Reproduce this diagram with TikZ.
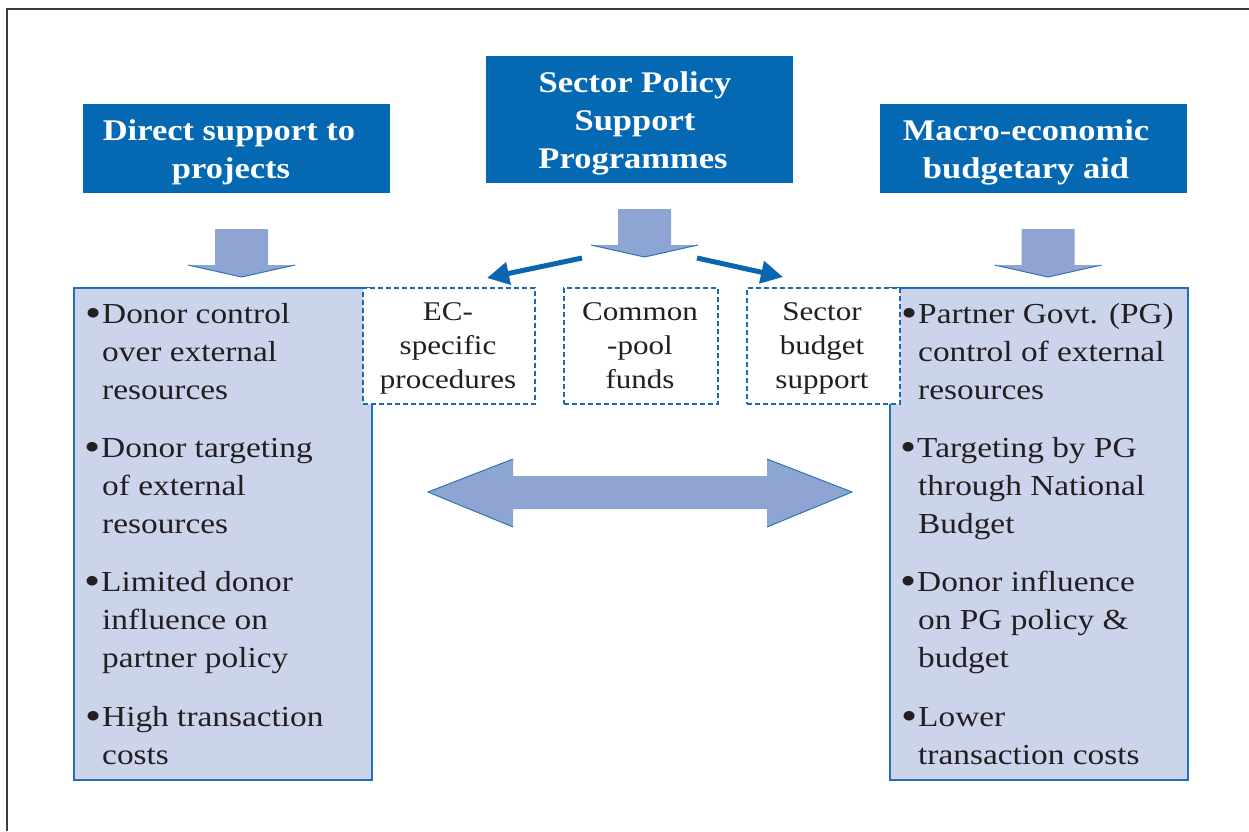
\documentclass[tikz,border=0pt]{standalone}
\usepackage{fontspec}
\setmainfont{Liberation Serif}[FakeStretch=1.15]
\usetikzlibrary{arrows.meta}
\definecolor{titleblue}{RGB}{5,104,179}
\definecolor{panelfill}{RGB}{203,212,234}
\definecolor{paneledge}{RGB}{33,112,186}
\definecolor{arrowfill}{RGB}{142,165,211}
\definecolor{arrowedge}{RGB}{46,117,182}
\definecolor{dashblue}{RGB}{25,108,180}
\definecolor{linkblue}{RGB}{10,102,176}
\definecolor{textgray}{RGB}{35,31,32}
\definecolor{framegray}{RGB}{60,60,60}
\begin{document}
\begin{tikzpicture}[x=1pt,y=-1pt,
  titlebox/.style={fill=titleblue,draw=none,anchor=north west,inner sep=0},
  panel/.style={fill=panelfill,draw=paneledge,line width=1.5pt,anchor=north west,inner sep=0},
  dashbox/.style={fill=white,draw=dashblue,line width=2pt,dash pattern=on 5pt off 3pt,anchor=north west,inner sep=0},
  titletext/.style={text=white,font=\fontsize{30}{38}\selectfont\bfseries,anchor=base,inner sep=0},
  bodytext/.style={text=textgray,font=\fontsize{29}{38}\selectfont,anchor=base west,inner sep=0},
  bullettext/.style={text=textgray,font=\fontsize{40}{40}\selectfont,anchor=base west,inner sep=0},
  dashtext/.style={text=textgray,font=\fontsize{27}{34}\selectfont,anchor=base,inner sep=0},
  link/.style={draw=linkblue,line width=5pt,-{Triangle[length=22pt,width=22pt]}},
  blockdown/.pic={
    \fill[arrowfill] (-26.5,0) -- (26.5,0) -- (26.5,36) -- (53.5,36) -- (0,48) -- (-53.5,36) -- (-26.5,36) -- cycle;
    \draw[arrowedge,line width=1pt] (53.5,36) -- (0,48) -- (-53.5,36);
  }]
\useasboundingbox (0,0) rectangle (1249,831);
\fill[white] (0,0) rectangle (1249,831);
% frame
\draw[framegray,line width=1.6pt] (7,831) -- (7,9) -- (1249,9);

% title boxes
\node[titlebox,minimum width=307pt,minimum height=89pt] (tL) at (83,104) {};
\node[titlebox,minimum width=307pt,minimum height=127pt] (tC) at (486,56) {};
\node[titlebox,minimum width=307pt,minimum height=89pt] (tR) at (880,104) {};
\node[titletext] (tL1) at (229,140) {Direct support to};
\node[titletext] (tL2) at (231,178) {projects};
\node[titletext] (tC1) at (635,92) {Sector Policy};
\node[titletext] (tC2) at (635,130) {Support};
\node[titletext] (tC3) at (633,168) {Programmes};
\node[titletext] (tR1) at (1026,140) {Macro-economic};
\node[titletext] (tR2) at (1026,178) {budgetary aid};

% down block arrows
\pic at (241.5,229) {blockdown};
\pic at (644.5,209) {blockdown};
\pic at (1048,229) {blockdown};

% panels
\node[panel,minimum width=298pt,minimum height=492pt] (pL) at (73,287) {};
\node[panel,minimum width=298pt,minimum height=492pt] (pR) at (889,287) {};

% dashed boxes
\node[dashbox,minimum width=172pt,minimum height=116pt] (dA) at (362,287) {};
\node[dashbox,minimum width=154pt,minimum height=116pt] (dB) at (563,287) {};
\node[dashbox,minimum width=153pt,minimum height=116pt] (dC) at (746,287) {};
\node[dashtext] (dA1) at (448,320) {EC-};
\node[dashtext] (dA2) at (448,354) {specific};
\node[dashtext] (dA3) at (448,388) {procedures};
\node[dashtext] (dB1) at (640,320) {Common};
\node[dashtext] (dB2) at (640,354) {-pool};
\node[dashtext] (dB3) at (640,388) {funds};
\node[dashtext] (dC1) at (822,320) {Sector};
\node[dashtext] (dC2) at (822,354) {budget};
\node[dashtext] (dC3) at (822,388) {support};

% links from the centre arrow
\coordinate (sL) at (582,258);
\coordinate (eL) at (487,278);
\coordinate (sR) at (697,258);
\coordinate (eR) at (783,277);
\draw[link] (sL) -- (eL);
\draw[link] (sR) -- (eR);

% double block arrow
\fill[arrowfill] (428,492) -- (513,459) -- (513,476) -- (767,476) -- (767,459) -- (852,492) -- (767,527) -- (767,509) -- (513,509) -- (513,527) -- cycle;
\draw[arrowedge,line width=1pt] (513,459) -- (428,492) -- (513,527);
\draw[arrowedge,line width=1pt] (767,459) -- (852,492) -- (767,527);

% left panel text
\node[bullettext] (bL1) at (85,326) {•};
\node[bodytext] (L11) at (102,323) {Donor control};
\node[bodytext] (L12) at (102,361) {over external};
\node[bodytext] (L13) at (102,399) {resources};
\node[bullettext] (bL2) at (84,460) {•};
\node[bodytext] (L21) at (101,457) {Donor targeting};
\node[bodytext] (L22) at (102,495) {of external};
\node[bodytext] (L23) at (102,533) {resources};
\node[bullettext] (bL3) at (84,594) {•};
\node[bodytext] (L31) at (101,591) {Limited donor};
\node[bodytext] (L32) at (102,629) {influence on};
\node[bodytext] (L33) at (102,667) {partner policy};
\node[bullettext] (bL4) at (85,729) {•};
\node[bodytext] (L41) at (102,726) {High transaction};
\node[bodytext] (L42) at (102,764) {costs};

% right panel text
\node[bullettext] (bR1) at (901,326) {•};
\node[bodytext] (R11) at (918,323) {Partner Govt. (PG)};
\node[bodytext] (R12) at (918,361) {control of external};
\node[bodytext] (R13) at (918,399) {resources};
\node[bullettext] (bR2) at (900,460) {•};
\node[bodytext] (R21) at (917,457) {Targeting by PG};
\node[bodytext] (R22) at (918,495) {through National};
\node[bodytext] (R23) at (918,533) {Budget};
\node[bullettext] (bR3) at (900,594) {•};
\node[bodytext] (R31) at (917,591) {Donor influence};
\node[bodytext] (R32) at (918,629) {on PG policy \&};
\node[bodytext] (R33) at (918,667) {budget};
\node[bullettext] (bR4) at (901,729) {•};
\node[bodytext] (R41) at (918,726) {Lower};
\node[bodytext] (R42) at (918,764) {transaction costs};
\end{tikzpicture}
\end{document}
